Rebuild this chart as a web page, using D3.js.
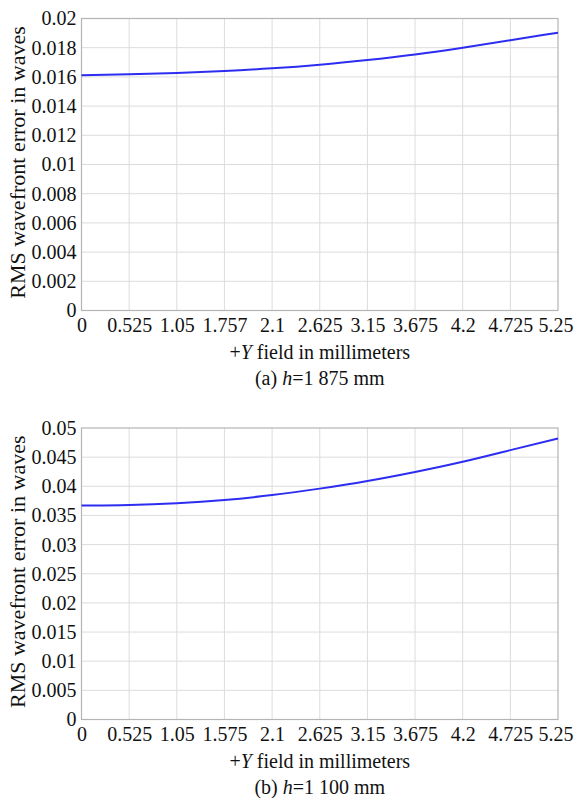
<!DOCTYPE html>
<html>
<head>
<meta charset="utf-8">
<script src="https://cdn.jsdelivr.net/npm/d3@7"></script>
<style>
  body { margin: 0; background: #fff; }
  svg { display: block; }
  svg text { font-family: "Liberation Serif", "Times New Roman", Times, "DejaVu Serif", serif; }
</style>
</head>
<body>
<div class="canvas"></div>
<script>
// field positions (x), shared by both panels
const fieldValues = [0, 0.525, 1.05, 1.575, 2.1, 2.625, 3.15, 3.675, 4.2, 4.725, 5.25];

// tick labels as printed (panel a has "1.757" in the original)
const xLabelsA = ['0', '0.525', '1.05', '1.757', '2.1', '2.625', '3.15', '3.675', '4.2', '4.725', '5.25'];
const xLabelsB = ['0', '0.525', '1.05', '1.575', '2.1', '2.625', '3.15', '3.675', '4.2', '4.725', '5.25'];

const yTicksA = [0, 0.002, 0.004, 0.006, 0.008, 0.01, 0.012, 0.014, 0.016, 0.018, 0.02];
const yTicksB = [0, 0.005, 0.01, 0.015, 0.02, 0.025, 0.03, 0.035, 0.04, 0.045, 0.05];

// RMS wavefront error
const rmsA = [0.01612, 0.01618, 0.01627, 0.01640, 0.01659, 0.01684, 0.01716, 0.01754, 0.01800, 0.01851, 0.01903];
const rmsB = [0.0367, 0.0368, 0.0371, 0.03765, 0.0385, 0.0396, 0.0409, 0.04245, 0.0442, 0.0462, 0.0482];

const fontStack = '"Liberation Serif", "Times New Roman", Times, "DejaVu Serif", serif';

const svg = d3.select('.canvas')
  .append('svg')
    .attr('width', 574)
    .attr('height', 798);

function drawPanel(opt) {
  const x = d3.scaleLinear().domain([0, 5.25]).range([opt.left, opt.right]);
  const y = d3.scaleLinear().domain([0, opt.yMax]).range([opt.bottom, opt.top]);

  const g = svg.append('g');

  // grid
  g.selectAll('line.vgrid').data(fieldValues.slice(1, -1))
    .enter().append('line')
      .attr('x1', d => x(d)).attr('x2', d => x(d))
      .attr('y1', opt.top).attr('y2', opt.bottom)
      .attr('stroke', '#dcdcdc').attr('stroke-width', 1);

  g.selectAll('line.hgrid').data(opt.yTicks.slice(1, -1))
    .enter().append('line')
      .attr('x1', opt.left).attr('x2', opt.right)
      .attr('y1', d => y(d)).attr('y2', d => y(d))
      .attr('stroke', '#dcdcdc').attr('stroke-width', 1);

  // frame
  g.append('rect')
    .attr('x', opt.left).attr('y', opt.top)
    .attr('width', opt.right - opt.left)
    .attr('height', opt.bottom - opt.top)
    .attr('fill', 'none')
    .attr('stroke', '#b4b4b4')
    .attr('stroke-width', 1.2);

  // y axis labels
  const yAxis = d3.axisLeft(y)
    .tickValues(opt.yTicks)
    .tickFormat(d => d3.format('~g')(d))
    .tickSize(0)
    .tickPadding(5);
  const ya = g.append('g')
    .attr('transform', `translate(${opt.left},0)`)
    .call(yAxis);
  ya.attr('font-family', fontStack).attr('font-size', 20);
  ya.select('.domain').remove();
  ya.selectAll('text').attr('fill', '#111');

  // x axis labels
  const xAxis = d3.axisBottom(x)
    .tickValues(fieldValues)
    .tickFormat((d, i) => opt.xLabels[i])
    .tickSize(0)
    .tickPadding(7);
  const xa = g.append('g')
    .attr('transform', `translate(0,${opt.bottom})`)
    .call(xAxis);
  xa.attr('font-family', fontStack).attr('font-size', 20);
  xa.select('.domain').remove();
  xa.selectAll('text').attr('fill', '#111');
  // last label sits flush with the right edge in the original
  xa.selectAll('text').filter((d, i) => i === fieldValues.length - 1)
    .attr('text-anchor', 'end')
    .attr('dx', 573 - opt.right);

  // the curve
  const line = d3.line()
    .x((d, i) => x(fieldValues[i]))
    .y(d => y(d))
    .curve(d3.curveNatural);

  g.append('path')
    .datum(opt.values)
    .attr('d', line)
    .attr('fill', 'none')
    .attr('stroke', '#2d2df2')
    .attr('stroke-width', 2);

  // y title
  g.append('text')
    .attr('transform', `translate(25,${(opt.top + opt.bottom) / 2 - 2}) rotate(-90)`)
    .attr('text-anchor', 'middle')
    .attr('font-size', 22)
    .attr('fill', '#111')
    .text('RMS wavefront error in waves');

  // x title
  const xt = g.append('text')
    .attr('x', (opt.left + opt.right) / 2)
    .attr('y', opt.bottom + 48)
    .attr('text-anchor', 'middle')
    .attr('font-size', 20)
    .attr('fill', '#111');
  xt.append('tspan').text('+');
  xt.append('tspan').attr('font-style', 'italic').text('Y');
  xt.append('tspan').text(' field in millimeters');

  // caption
  const cap = g.append('text')
    .attr('x', (opt.left + opt.right) / 2)
    .attr('y', opt.bottom + 74)
    .attr('text-anchor', 'middle')
    .attr('font-size', 20)
    .attr('fill', '#111');
  cap.append('tspan').text(opt.tag + ' ');
  cap.append('tspan').attr('font-style', 'italic').text('h');
  cap.append('tspan').text('=' + opt.height);
}

drawPanel({
  left: 81.5, right: 558, top: 18.5, bottom: 310.5,
  yMax: 0.02, yTicks: yTicksA, xLabels: xLabelsA, values: rmsA,
  tag: '(a)', height: '1 875 mm'
});

drawPanel({
  left: 81.5, right: 558, top: 428, bottom: 719.5,
  yMax: 0.05, yTicks: yTicksB, xLabels: xLabelsB, values: rmsB,
  tag: '(b)', height: '1 100 mm'
});
</script>
</body>
</html>
